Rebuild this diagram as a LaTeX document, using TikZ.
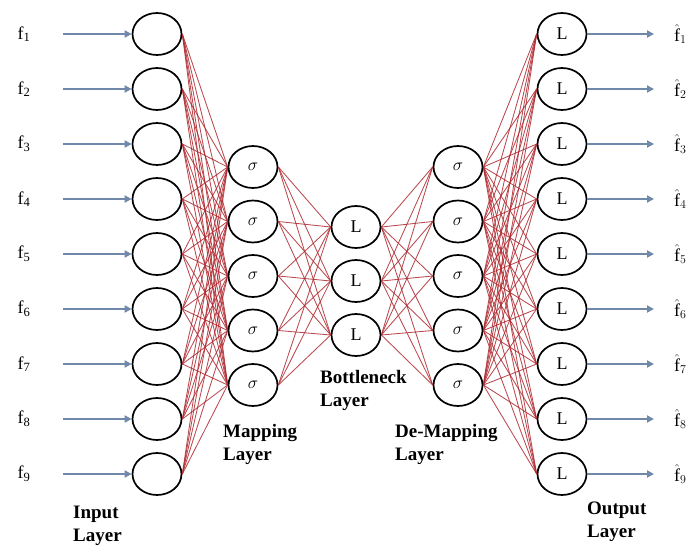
\documentclass[tikz,border=0pt]{standalone}
\usepackage{fontspec}
\setmainfont{Liberation Serif}
\usetikzlibrary{arrows.meta,shapes.geometric}
\definecolor{linkred}{HTML}{AE2A30}
\definecolor{feedblue}{HTML}{7088AA}
\begin{document}
\begin{tikzpicture}[x=1pt,y=-1pt,
  neuron/.style={draw=black,line width=1.7pt,ellipse,minimum width=49pt,minimum height=42pt,inner sep=0pt,
                 font=\fontsize{18}{20}\selectfont},
  link/.style={draw=linkred,line width=0.85pt,opacity=0.85},
  feed/.style={draw=feedblue,line width=2.4pt,-{Triangle[length=7pt,width=7pt]}},
  sig/.style={font=\fontsize{18}{20}\selectfont},
  tag/.style={font=\fontsize{19}{23}\selectfont\bfseries,align=left,inner sep=0pt,anchor=north west},
]
\useasboundingbox (0,0) rectangle (691,551);

% input and output layers
\foreach \i in {1,...,9} {
  \pgfmathsetmacro\yy{34+55*(\i-1)}
  \node[neuron] (in\i) at (157,\yy) {};
  \node[neuron] (out\i) at (562,\yy) {L};
  \coordinate (src\i) at (63,\yy);
  \coordinate (dst\i) at (654,\yy);
  \node[sig] (fin\i) at (24,\yy) {f\textsubscript{\i}};
  \node[sig,anchor=west,inner sep=0pt] (fout\i) at (674,\yy) {$\hat{\mathrm{f}}_{\i}$};
}

% mapping and de-mapping layers
\foreach \j in {1,...,5} {
  \pgfmathsetmacro\yy{167+54.5*(\j-1)}
  \node[neuron] (map\j) at (253,\yy) {$\sigma$};
  \node[neuron] (dem\j) at (458,\yy) {$\sigma$};
}

% bottleneck layer
\foreach \k in {1,2,3} {
  \pgfmathsetmacro\yy{227+54*(\k-1)}
  \node[neuron] (bot\k) at (356,\yy) {L};
}

% weighted connections
\foreach \i in {1,...,9} {
  \foreach \j in {1,...,5} {
    \draw[link] (in\i.east) -- (map\j.west);
    \draw[link] (dem\j.east) -- (out\i.west);
  }
}
\foreach \j in {1,...,5} {
  \foreach \k in {1,2,3} {
    \draw[link] (map\j.east) -- (bot\k.west);
    \draw[link] (bot\k.east) -- (dem\j.west);
  }
}

% input and output arrows
\foreach \i in {1,...,9} {
  \draw[feed] (src\i) -- (in\i.west);
  \draw[feed] (out\i.east) -- (dst\i);
}

% layer captions
\node[tag] (capin) at (73,506) {Input\\Layer};
\node[tag] (capmap) at (223,424) {Mapping\\Layer};
\node[tag] (capbot) at (320,370) {Bottleneck\\Layer};
\node[tag] (capdem) at (395,424) {De-Mapping\\Layer};
\node[tag] (capout) at (587,502) {Output\\Layer};
\end{tikzpicture}
\end{document}
